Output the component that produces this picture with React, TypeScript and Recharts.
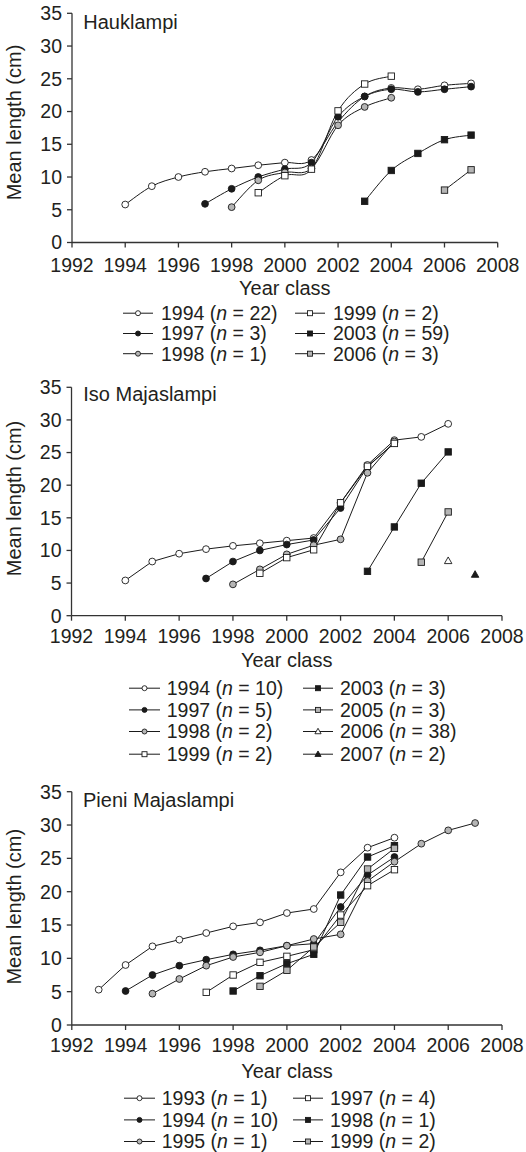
import React from "react";
import { LineChart, Line, XAxis, YAxis } from "recharts";

const X_TICKS = [1992, 1994, 1996, 1998, 2000, 2002, 2004, 2006, 2008];
const Y_TICKS = [0, 5, 10, 15, 20, 25, 30, 35];

// Hauklampi: mean length (cm) per year, from the first year of each year class
const HAU_1994 = [5.8, 8.6, 10.0, 10.8, 11.3, 11.8, 12.2, 12.6, 18.4, 22.3, 23.6, 23.4, 24.0, 24.3];
const HAU_1997 = [5.9, 8.2, 10.0, 11.2, 12.2, 19.2, 22.3, 23.4, 23.0, 23.4, 23.8];
const HAU_1998 = [5.4, 9.5, 10.7, 11.3, 17.9, 20.7, 22.1];
const HAU_1999 = [7.6, 10.2, 11.2, 20.1, 24.2, 25.4];
const HAU_2003 = [6.3, 11.0, 13.6, 15.7, 16.4];
const HAU_2006 = [8.0, 11.1];

// Iso Majaslampi
const ISO_1994 = [5.4, 8.3, 9.5, 10.2, 10.7, 11.1, 11.5, 11.9, 17.3, 23.1, 26.9, 27.4, 29.4];
const ISO_1997 = [5.7, 8.3, 10.0, 10.9, 11.6, 16.5, 22.8, 26.5];
const ISO_1998 = [4.8, 7.1, 9.4, 10.8, 11.7, 21.9, 26.7];
const ISO_1999 = [6.5, 8.9, 10.1, 17.3, 22.9, 26.4];
const ISO_2003 = [6.8, 13.6, 20.3, 25.1];
const ISO_2005 = [8.2, 15.9];
const ISO_2006 = [8.4];
const ISO_2007 = [6.3];

// Pieni Majaslampi
const PIE_1993 = [5.3, 9.0, 11.8, 12.8, 13.8, 14.8, 15.4, 16.8, 17.4, 22.9, 26.6, 28.1];
const PIE_1994 = [5.1, 7.5, 8.9, 9.8, 10.6, 11.2, 11.9, 12.2, 17.7, 22.5, 25.2];
const PIE_1995 = [4.7, 6.9, 8.9, 10.2, 10.9, 11.9, 12.9, 13.6, 21.6, 24.5, 27.2, 29.2, 30.3];
const PIE_1997 = [4.9, 7.5, 9.4, 10.3, 11.3, 16.5, 20.9, 23.3];
const PIE_1998 = [5.1, 7.4, 9.2, 10.6, 19.5, 25.2, 26.9];
const PIE_1999 = [5.8, 8.2, 11.7, 15.4, 23.4, 26.5];

type Kind = "circle" | "square" | "triangle";
type Series = { year: number; n: number; values: number[]; kind: Kind; fill: string };

const OPEN = "#ffffff";
const BLACK = "#1a1a1a";
const GRAY = "#b5b5b5";
const INK = "#231f20";
const AXIS = "#333333";
const FONT = "'Liberation Sans', Arial, sans-serif";

const hauSeries: Series[] = [
  { year: 1994, n: 22, values: HAU_1994, kind: "circle", fill: OPEN },
  { year: 1997, n: 3, values: HAU_1997, kind: "circle", fill: BLACK },
  { year: 1998, n: 1, values: HAU_1998, kind: "circle", fill: GRAY },
  { year: 1999, n: 2, values: HAU_1999, kind: "square", fill: OPEN },
  { year: 2003, n: 59, values: HAU_2003, kind: "square", fill: BLACK },
  { year: 2006, n: 3, values: HAU_2006, kind: "square", fill: GRAY },
];

const isoSeries: Series[] = [
  { year: 1994, n: 10, values: ISO_1994, kind: "circle", fill: OPEN },
  { year: 1997, n: 5, values: ISO_1997, kind: "circle", fill: BLACK },
  { year: 1998, n: 2, values: ISO_1998, kind: "circle", fill: GRAY },
  { year: 1999, n: 2, values: ISO_1999, kind: "square", fill: OPEN },
  { year: 2003, n: 3, values: ISO_2003, kind: "square", fill: BLACK },
  { year: 2005, n: 3, values: ISO_2005, kind: "square", fill: GRAY },
  { year: 2006, n: 38, values: ISO_2006, kind: "triangle", fill: OPEN },
  { year: 2007, n: 2, values: ISO_2007, kind: "triangle", fill: BLACK },
];

const pieSeries: Series[] = [
  { year: 1993, n: 1, values: PIE_1993, kind: "circle", fill: OPEN },
  { year: 1994, n: 10, values: PIE_1994, kind: "circle", fill: BLACK },
  { year: 1995, n: 1, values: PIE_1995, kind: "circle", fill: GRAY },
  { year: 1997, n: 4, values: PIE_1997, kind: "square", fill: OPEN },
  { year: 1998, n: 1, values: PIE_1998, kind: "square", fill: BLACK },
  { year: 1999, n: 2, values: PIE_1999, kind: "square", fill: GRAY },
];

const toPoints = (s: Series) => s.values.map((y, i) => ({ x: s.year + i, y }));

// Catmull-Rom style smoothing, close to the spreadsheet "smoothed line" look
const smoothCurve: any = (ctx: any) => {
  let pts: number[][] = [];
  return {
    areaStart() {},
    areaEnd() {},
    lineStart() {
      pts = [];
    },
    point(x: number, y: number) {
      pts.push([+x, +y]);
    },
    lineEnd() {
      const n = pts.length;
      if (!n) return;
      ctx.moveTo(pts[0][0], pts[0][1]);
      for (let i = 0; i < n - 1; i++) {
        const p0 = pts[Math.max(i - 1, 0)];
        const p1 = pts[i];
        const p2 = pts[i + 1];
        const p3 = pts[Math.min(i + 2, n - 1)];
        ctx.bezierCurveTo(
          p1[0] + (p2[0] - p0[0]) / 6,
          p1[1] + (p2[1] - p0[1]) / 6,
          p2[0] - (p3[0] - p1[0]) / 6,
          p2[1] - (p3[1] - p1[1]) / 6,
          p2[0],
          p2[1]
        );
      }
    },
  };
};

function Marker({ cx, cy, kind, fill, s }: { cx: number; cy: number; kind: Kind; fill: string; s: number }) {
  const common = { fill, stroke: BLACK, strokeWidth: 0.9 };
  if (kind === "circle") return <circle cx={cx} cy={cy} r={s} {...common} />;
  if (kind === "square") return <rect x={cx - s} y={cy - s} width={2 * s} height={2 * s} {...common} />;
  const h = s * 1.15;
  return (
    <polygon
      points={`${cx},${cy - h} ${cx + s * 1.1},${cy + s * 0.8} ${cx - s * 1.1},${cy + s * 0.8}`}
      {...common}
    />
  );
}

const dotFor = (s: Series) => (p: any) => {
  if (p.cx == null || p.cy == null) return <g key={`e-${p.index}`} />;
  const size = s.kind === "circle" ? 3.4 : s.kind === "square" ? 3.2 : 3.4;
  return <Marker key={`d-${s.year}-${p.index}`} cx={p.cx} cy={p.cy} kind={s.kind} fill={s.fill} s={size} />;
};

type PanelProps = {
  top: number;
  height: number;
  margin: { top: number; right: number; bottom: number; left: number };
  series: Series[];
  tickMargin: number;
  labelOffset: number;
  yLabelShift: number;
  smooth?: boolean;
};

function Panel({ top, height, margin, series, tickMargin, labelOffset, yLabelShift, smooth }: PanelProps) {
  return (
    <div style={{ position: "absolute", top, left: 0 }}>
      <LineChart width={526} height={height} margin={margin}>
        <XAxis
          type="number"
          dataKey="x"
          domain={[1992, 2008]}
          ticks={X_TICKS}
          interval={0}
          height={60}
          tickSize={5}
          tickMargin={tickMargin}
          tick={{ fontSize: 19.5, fill: INK }}
          axisLine={{ stroke: AXIS, strokeWidth: 1.3 }}
          tickLine={{ stroke: AXIS, strokeWidth: 1.3 }}
          label={{ value: "Year class", position: "insideBottom", offset: labelOffset, fontSize: 20, fill: INK }}
        />
        <YAxis
          type="number"
          domain={[0, 35]}
          ticks={Y_TICKS}
          interval={0}
          width={60}
          tickSize={5}
          tickMargin={5}
          tick={{ fontSize: 19.5, fill: INK }}
          axisLine={{ stroke: AXIS, strokeWidth: 1.3 }}
          tickLine={{ stroke: AXIS, strokeWidth: 1.3 }}
          label={(p: any) => {
            const vb = p.viewBox || {};
            const cy = (vb.y ?? 0) + (vb.height ?? 0) / 2 + yLabelShift;
            return (
              <text
                transform={`translate(16,${cy}) rotate(-90)`}
                textAnchor="middle"
                dy="0.26em"
                fontSize={20}
                fill={INK}
              >
                Mean length (cm)
              </text>
            );
          }}
        />
        {series.map((s) => (
          <Line
            key={s.year}
            data={toPoints(s)}
            dataKey="y"
            type={smooth ? smoothCurve : "linear"}
            stroke={BLACK}
            strokeWidth={1}
            dot={dotFor(s)}
            activeDot={false}
            isAnimationActive={false}
          />
        ))}
      </LineChart>
    </div>
  );
}

type LegendLayout = { rows: number[]; cols: { x0: number; x1: number; tx: number }[]; perCol: number };

function LegendBlock({ series, layout }: { series: Series[]; layout: LegendLayout }) {
  return (
    <g>
      {series.map((s, i) => {
        const col = layout.cols[Math.floor(i / layout.perCol)];
        const base = layout.rows[i % layout.perCol];
        const my = base - 6.8;
        return (
          <g key={s.year}>
            <line x1={col.x0} x2={col.x1} y1={my} y2={my} stroke={BLACK} strokeWidth={1} />
            <Marker cx={(col.x0 + col.x1) / 2} cy={my} kind={s.kind} fill={s.fill} s={s.kind === "triangle" ? 2.8 : 2.5} />
            <text x={col.tx} y={base} fontSize={19.5} fill={INK}>
              {`${s.year} (`}
              <tspan fontStyle="italic">n</tspan>
              {` = ${s.n})`}
            </text>
          </g>
        );
      })}
    </g>
  );
}

const HAU_LEGEND: LegendLayout = {
  rows: [320, 340.3, 360.5],
  perCol: 3,
  cols: [
    { x0: 123, x1: 153, tx: 161 },
    { x0: 295, x1: 325, tx: 333 },
  ],
};
const ISO_LEGEND: LegendLayout = {
  rows: [695, 716.7, 738.3, 761],
  perCol: 4,
  cols: [
    { x0: 129, x1: 160, tx: 166.7 },
    { x0: 303, x1: 333, tx: 340 },
  ],
};
const PIE_LEGEND: LegendLayout = {
  rows: [1105, 1126.7, 1148.3],
  perCol: 3,
  cols: [
    { x0: 124, x1: 155, tx: 161.7 },
    { x0: 293, x1: 323, tx: 330 },
  ],
};

export default function App() {
  return (
    <div
      style={{
        position: "absolute",
        left: 0,
        top: 0,
        width: 526,
        height: 1152,
        background: "#fff",
        fontFamily: FONT,
        overflow: "hidden",
      }}
    >
      <Panel
        top={0}
        height={302.5}
        margin={{ top: 13.3, right: 28.3, bottom: 0, left: 12 }}
        series={hauSeries}
        tickMargin={11}
        labelOffset={7.2}
        yLabelShift={-5.4}
        smooth
      />
      <Panel
        top={374}
        height={301.7}
        margin={{ top: 13.3, right: 24, bottom: 0, left: 11.5 }}
        series={isoSeries}
        tickMargin={8}
        labelOffset={9}
        yLabelShift={-3}
      />
      <Panel
        top={778}
        height={307}
        margin={{ top: 13.7, right: 24, bottom: 0, left: 11.8 }}
        series={pieSeries}
        tickMargin={8}
        labelOffset={6.7}
        yLabelShift={-1.6}
      />
      <svg
        width={526}
        height={1152}
        style={{ position: "absolute", left: 0, top: 0, pointerEvents: "none" }}
      >
        <text x={83.3} y={29} fontSize={20} fill={INK}>Hauklampi</text>
        <text x={83.3} y={401} fontSize={20} fill={INK}>Iso Majaslampi</text>
        <text x={83} y={807} fontSize={20} fill={INK}>Pieni Majaslampi</text>
        <LegendBlock series={hauSeries} layout={HAU_LEGEND} />
        <LegendBlock series={isoSeries} layout={ISO_LEGEND} />
        <LegendBlock series={pieSeries} layout={PIE_LEGEND} />
      </svg>
    </div>
  );
}
